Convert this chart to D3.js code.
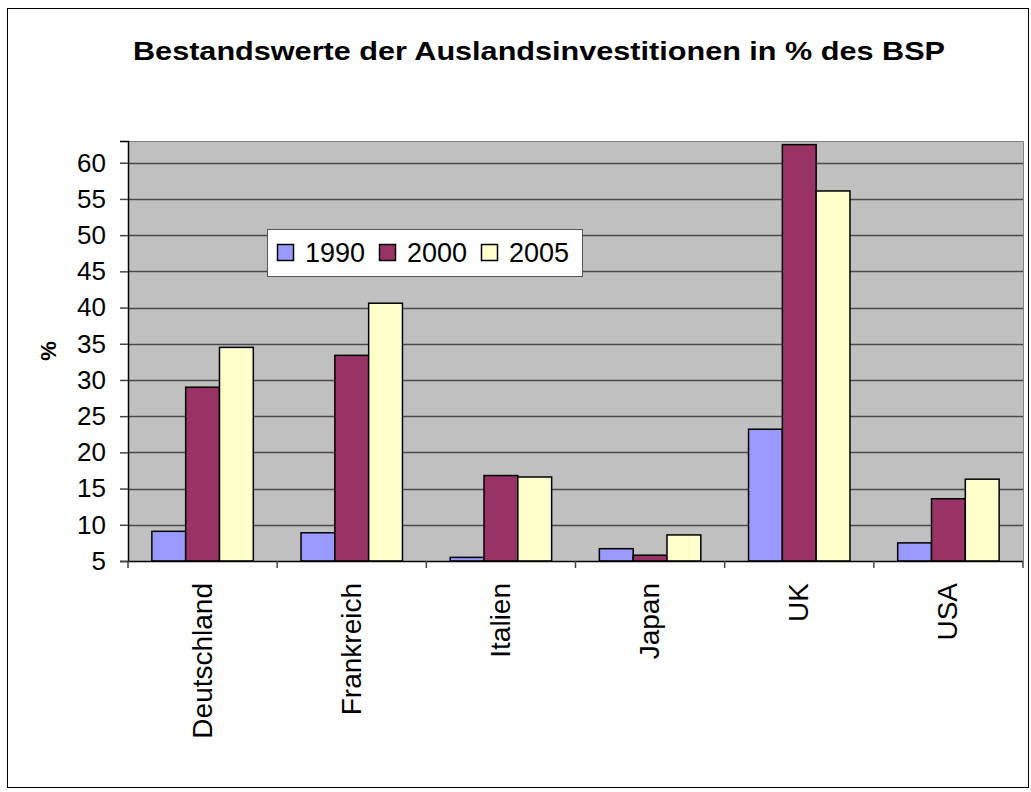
<!DOCTYPE html>
<html>
<head>
<meta charset="utf-8">
<script src="https://cdn.jsdelivr.net/npm/d3@7"></script>
<style>
	body { margin: 0; background: #fff; }
	text { font-family: "Liberation Sans", Arial, sans-serif; fill: #000; }
</style>
</head>
<body>
<svg id="chart" width="1031" height="792"></svg>
<script>
// data
let countries = ["Deutschland", "Frankreich", "Italien", "Japan", "UK", "USA"];
let years = ["1990", "2000", "2005"];
let v1990 = [9.1, 8.9, 5.5, 6.7, 23.2, 7.5];
let v2000 = [29.0, 33.4, 16.8, 5.8, 62.5, 13.6];
let v2005 = [34.5, 40.6, 16.6, 8.6, 56.1, 16.3];
let yTicks = [5, 10, 15, 20, 25, 30, 35, 40, 45, 50, 55, 60];
let colors = ["#9999ff", "#993366", "#ffffcc"];

let series = [v1990, v2000, v2005];

let svg = d3.select("svg#chart"),
	plot = {left: 128, right: 1023, top: 141, bottom: 561};

// outer frame
svg.append("rect")
	.attr("x", 7.5).attr("y", 8.5)
	.attr("width", 1021).attr("height", 779)
	.attr("fill", "#fff").attr("stroke", "#000").attr("stroke-width", 1);

svg.append("text")
	.attr("x", 133).attr("y", 60)
	.attr("textLength", 812).attr("lengthAdjust", "spacingAndGlyphs")
	.style("font-size", "25px").style("font-weight", "bold")
	.text("Bestandswerte der Auslandsinvestitionen in % des BSP");

let x = d3.scaleBand()
	.domain(countries)
	.range([plot.left, plot.right])
	.paddingInner(0.32).paddingOuter(0.16);

let xs = d3.scaleBand()
	.domain(years)
	.range([0, x.bandwidth()]);

let y = d3.scaleLinear()
	.domain([5, 63])
	.range([plot.bottom, plot.top]);

let g = svg.append("g");

// plot background
g.append("rect")
	.attr("x", plot.left).attr("y", plot.top)
	.attr("width", plot.right - plot.left).attr("height", plot.bottom - plot.top)
	.attr("fill", "#c0c0c0");

// gridlines
g.selectAll("line.grid")
	.data(yTicks.slice(1))
	.enter().append("line")
	.attr("class", "grid")
	.attr("x1", plot.left).attr("x2", plot.right)
	.attr("y1", function(d) { return Math.round(y(d)) + 0.5; })
	.attr("y2", function(d) { return Math.round(y(d)) + 0.5; })
	.attr("stroke", "#4a4a4a").attr("stroke-width", 1.5);

// plot border top/right
g.append("path")
	.attr("d", "M" + plot.left + "," + (plot.top + 0.5) + "H" + (plot.right + 0.5) + "V" + plot.bottom)
	.attr("fill", "none").attr("stroke", "#808080").attr("stroke-width", 1);

// bars
let groups = g.selectAll("g.cat")
	.data(countries)
	.enter().append("g")
	.attr("class", "cat")
	.attr("transform", function(d) { return "translate(" + x(d) + ",0)"; });

groups.selectAll("rect")
	.data(function(d, i) { return series.map(function(s, j) { return {year: years[j], value: s[i], k: j}; }); })
	.enter().append("rect")
	.attr("x", function(d) { return xs(d.year); })
	.attr("y", function(d) { return y(d.value); })
	.attr("width", xs.bandwidth())
	.attr("height", function(d) { return plot.bottom - y(d.value); })
	.attr("fill", function(d) { return colors[d.k]; })
	.attr("stroke", "#000").attr("stroke-width", 1.5);

// y axis
let yAxis = svg.append("g")
	.attr("transform", "translate(" + plot.left + ",0)")
	.call(d3.axisLeft(y).tickValues(yTicks).tickSize(8).tickPadding(14));
yAxis.select(".domain").attr("stroke", "#000").attr("stroke-width", 1.5);
yAxis.selectAll(".tick line").attr("stroke", "#444").attr("stroke-width", 1.5);
yAxis.selectAll(".tick text")
	.style("font-size", "26px")
	.attr("font-family", null);

svg.append("text")
	.attr("transform", "translate(56,351) rotate(-90)")
	.attr("text-anchor", "middle")
	.style("font-size", "22px").style("font-weight", "bold")
	.text("%");

// x axis
let bounds = d3.range(countries.length + 1).map(function(i) { return plot.left + i * x.step(); });
svg.append("line")
	.attr("x1", plot.left).attr("x2", plot.right)
	.attr("y1", plot.bottom + 0.5).attr("y2", plot.bottom + 0.5)
	.attr("stroke", "#000").attr("stroke-width", 1.5);
svg.selectAll("line.xtick")
	.data(bounds)
	.enter().append("line")
	.attr("class", "xtick")
	.attr("x1", function(d) { return d; }).attr("x2", function(d) { return d; })
	.attr("y1", plot.bottom).attr("y2", plot.bottom + 7)
	.attr("stroke", "#444").attr("stroke-width", 1.5);
svg.selectAll("text.xlab")
	.data(countries)
	.enter().append("text")
	.attr("class", "xlab")
	.attr("transform", function(d) { return "translate(" + (x(d) + x.bandwidth() / 2 + 9) + "," + (plot.bottom + 22) + ") rotate(-90)"; })
	.attr("text-anchor", "end")
	.style("font-size", "28px")
	.text(function(d) { return d; });

// legend
let legend = svg.append("g").attr("transform", "translate(267,229)");
legend.append("rect")
	.attr("x", 0.5).attr("y", 0.5)
	.attr("width", 315).attr("height", 47)
	.attr("fill", "#fff").attr("stroke", "#555").attr("stroke-width", 1);
let item = legend.selectAll("g.item")
	.data(years)
	.enter().append("g")
	.attr("class", "item")
	.attr("transform", function(d, i) { return "translate(" + (10 + i * 102) + ",0)"; });
item.append("rect")
	.attr("x", 0.5).attr("y", 15.5)
	.attr("width", 16).attr("height", 16)
	.attr("fill", function(d, i) { return colors[i]; })
	.attr("stroke", "#000").attr("stroke-width", 1.5);
item.append("text")
	.attr("x", 28).attr("y", 33)
	.style("font-size", "27px")
	.text(function(d) { return d; });
</script>
</body>
</html>
